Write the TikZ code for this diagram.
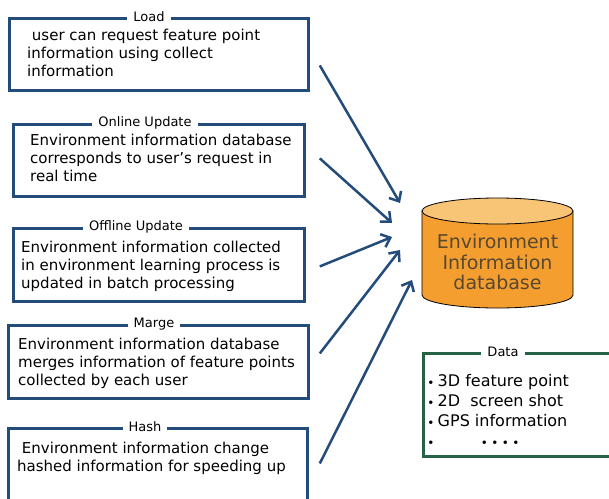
\documentclass[tikz,border=0pt]{standalone}
\usepackage{fontspec}
\setmainfont{DejaVu Sans}
\usetikzlibrary{arrows.meta}

\definecolor{boxblue}{RGB}{36,76,122}
\definecolor{boxgreen}{RGB}{38,98,70}
\definecolor{dborange}{RGB}{244,158,48}
\definecolor{dbtop}{RGB}{248,196,118}
\definecolor{dbtext}{RGB}{88,72,48}

\tikzset{
  panel/.style={draw=boxblue, line width=2.8pt, inner sep=0pt, anchor=north west},
  heading/.style={fill=white, inner xsep=6pt, inner ysep=1pt, font=\fontsize{13}{15}\selectfont},
  body/.style={anchor=west, inner sep=0pt, align=left, font=\fontsize{15}{18}\selectfont},
  feed/.style={draw=boxblue, line width=2.5pt, -{Straight Barb[length=8pt,width=14pt]}}
}
\newcommand{\dotmark}{{\fontsize{12}{12}\selectfont ∙}}

\begin{document}
\begin{tikzpicture}[x=1pt,y=-1pt]
\clip (0,0) rectangle (609,498);
\fill [white] (0,0) rectangle (609,498);

% the five request boxes
\node [panel, minimum width=299pt, minimum height=72pt] (load) at (8,17) {};
\node [panel, minimum width=291pt, minimum height=72pt] (online) at (12,123) {};
\node [panel, minimum width=291pt, minimum height=73pt] (offline) at (12,227) {};
\node [panel, minimum width=300pt, minimum height=73pt] (marge) at (7,324) {};
\node [panel, minimum width=299pt, minimum height=100pt] (hash) at (7,427) {};

\node [heading] (loadT) at (149,17) {Load};
\node [heading] (onlineT) at (145,123) {Online Update};
\node [heading] (offlineT) at (136,227) {Offline Update};
\node [heading] (margeT) at (154,324) {Marge};
\node [heading] (hashT) at (145,427) {Hash};

\node [body] (loadX) at (27,53) {\ user can request feature point\\information using collect\\information};
\node [body] (onlineX) at (30,158) {Environment information database\\corresponds to user’s request in\\real time};
\node [body] (offlineX) at (21,266) {Environment information collected\\in environment learning process is\\updated in batch processing};
\node [body] (margeX) at (18,363) {Environment information database\\merges information of feature points\\collected by each user};
\node [body] (hashX) at (17,458) {\ Environment information change\\hashed information for speeding up};

% database cylinder
\draw [fill=dborange, line width=0.8pt] (422,211) -- (422,295) arc [start angle=180, end angle=0, x radius=75.5, y radius=13] -- (573,211) -- cycle;
\draw [fill=dbtop, line width=0.8pt] (497.5,211) ellipse [x radius=75.5, y radius=13];
\node [align=center, text=dbtext, font=\fontsize{19}{20.5}\selectfont] (db) at (497.5,262) {Environment\\Information\\database};
\coordinate (dbL) at (422,253);

% data box
\node [panel, draw=boxgreen, minimum width=200pt, minimum height=103pt] (data) at (422,352) {};
\node [heading] (dataT) at (503,352) {Data};
\node [anchor=west, inner sep=0pt, align=left, font=\fontsize{16}{20}\selectfont] (items) at (427,410)
  {\dotmark\kern3pt 3D feature point\\\dotmark\kern3pt 2D\ \ screen shot\\\dotmark\kern3pt GPS information\\\dotmark\hspace{46pt}\dotmark\kern3pt\dotmark\kern3pt\dotmark\kern3pt\dotmark};

% arrows into the database
\draw [feed] ([shift={(10,11)}]load.east) -- ([shift={(-22,-50)}]dbL);
\draw [feed] ([shift={(14,-2)}]online.east) -- ([shift={(-30,-30)}]dbL);
\draw [feed] ([shift={(14,1.5)}]offline.east) -- ([shift={(-30,-16)}]dbL);
\draw [feed] ([shift={(10,-8.5)}]marge.east) -- ([shift={(-22,-3)}]dbL);
\draw [feed] ([shift={(11,-15)}]hash.east) -- ([shift={(-10,27)}]dbL);

\end{tikzpicture}
\end{document}
